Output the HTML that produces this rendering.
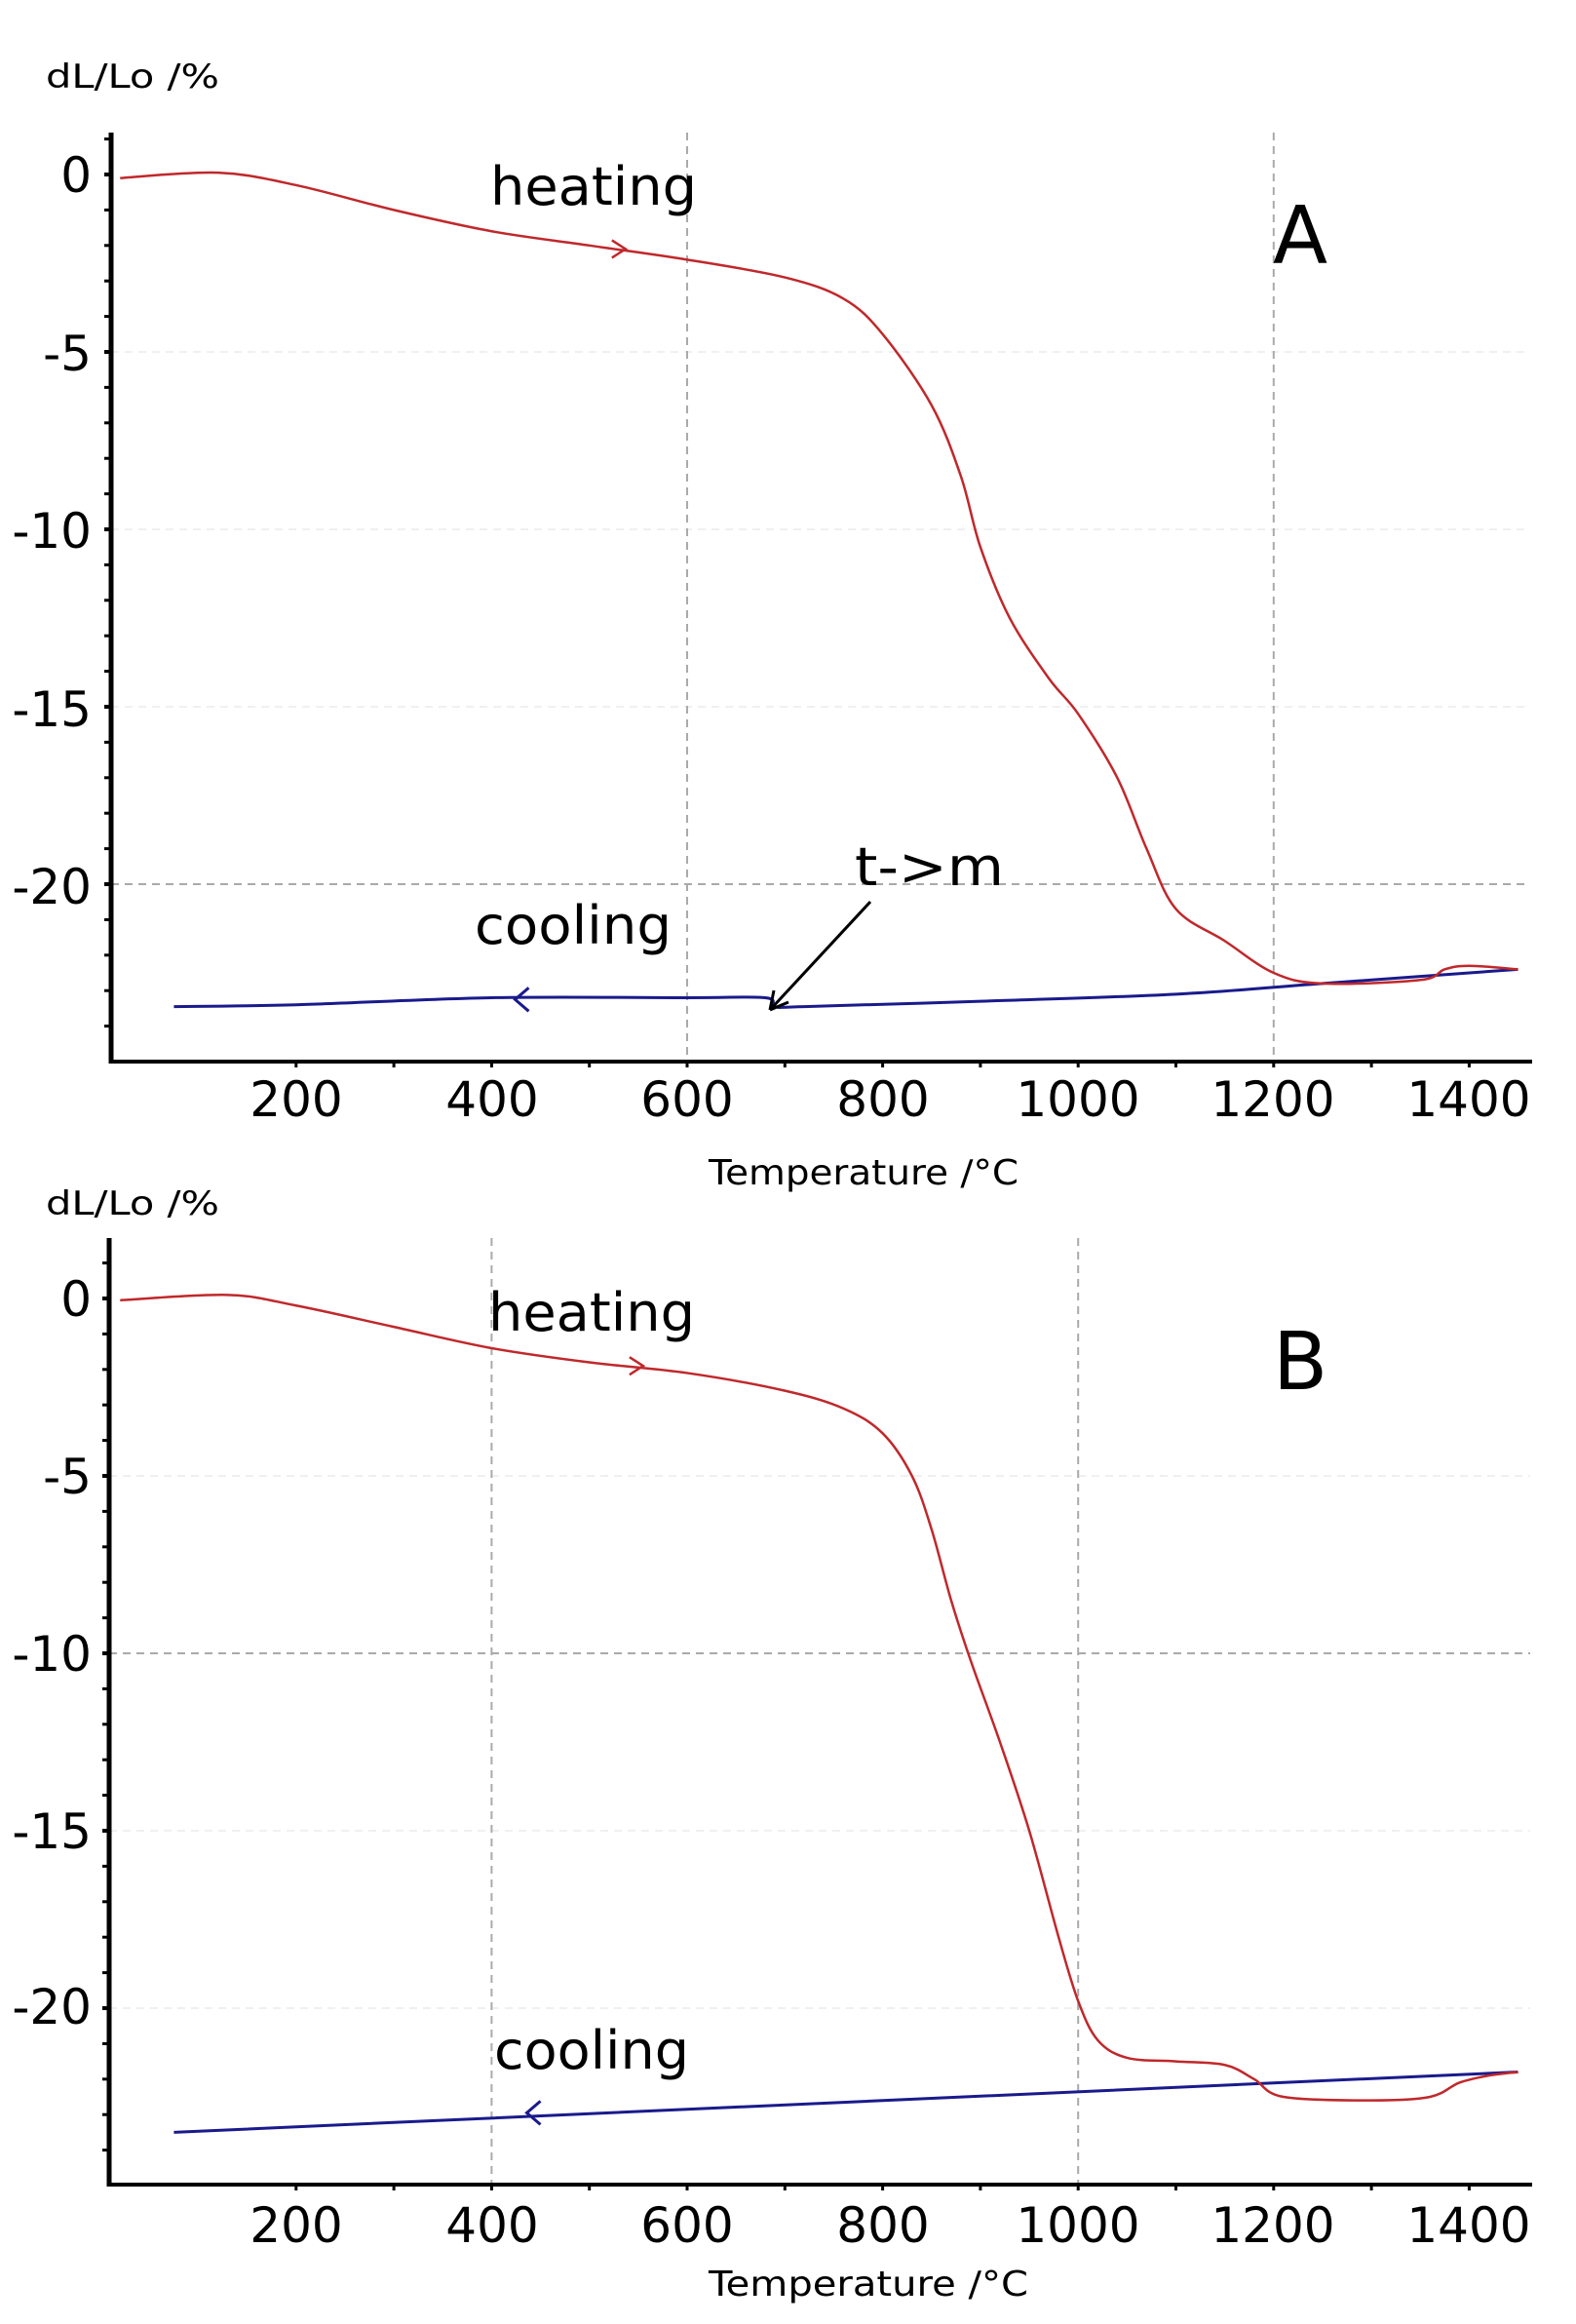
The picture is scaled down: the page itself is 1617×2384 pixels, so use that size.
<!DOCTYPE html>
<html><head><meta charset="utf-8"><style>
html,body{margin:0;padding:0;background:#fff}
svg{display:block}
text{font-family:"DejaVu Sans","Liberation Sans",sans-serif;fill:#000}
</style></head><body>
<svg id="s" width="1617" height="2384" viewBox="0 0 1617 2384" xmlns="http://www.w3.org/2000/svg">
<g id="g"></g>
<!-- Plot A texts -->
<text x="47" y="90" font-size="34" textLength="178" lengthAdjust="spacingAndGlyphs">dL/Lo /%</text>
<g font-size="50" text-anchor="end">
<text x="94" y="197">0</text>
<text x="94" y="380">-5</text>
<text x="94" y="562">-10</text>
<text x="94" y="745">-15</text>
<text x="94" y="927">-20</text>
</g>
<g font-size="50" text-anchor="middle">
<text x="304" y="1145">200</text>
<text x="505" y="1145">400</text>
<text x="705" y="1145">600</text>
<text x="906" y="1145">800</text>
<text x="1106" y="1145">1000</text>
<text x="1306" y="1145">1200</text>
<text x="1507" y="1145">1400</text>
</g>
<text x="727" y="1215" font-size="36" textLength="318" lengthAdjust="spacingAndGlyphs">Temperature /°C</text>
<text x="503" y="210" font-size="54" textLength="212" lengthAdjust="spacingAndGlyphs">heating</text>
<text x="1306" y="270" font-size="82">A</text>
<text x="487" y="968" font-size="54" textLength="202" lengthAdjust="spacingAndGlyphs">cooling</text>
<text x="877" y="908" font-size="54" textLength="153" lengthAdjust="spacingAndGlyphs">t-&gt;m</text>
<line x1="893" y1="925" x2="790" y2="1036" stroke="#000" stroke-width="3"/>
<path d="M790,1036 L794,1016 M790,1036 L809,1028" stroke="#000" stroke-width="3" fill="none"/>
<!-- Plot B texts -->
<text x="47" y="1246" font-size="34" textLength="178" lengthAdjust="spacingAndGlyphs">dL/Lo /%</text>
<g font-size="50" text-anchor="end">
<text x="94" y="1350">0</text>
<text x="94" y="1532">-5</text>
<text x="94" y="1714">-10</text>
<text x="94" y="1896">-15</text>
<text x="94" y="2076">-20</text>
</g>
<g font-size="50" text-anchor="middle">
<text x="304" y="2300">200</text>
<text x="505" y="2300">400</text>
<text x="705" y="2300">600</text>
<text x="906" y="2300">800</text>
<text x="1106" y="2300">1000</text>
<text x="1306" y="2300">1200</text>
<text x="1507" y="2300">1400</text>
</g>
<text x="727" y="2355" font-size="36" textLength="328" lengthAdjust="spacingAndGlyphs">Temperature /°C</text>
<text x="501" y="1365" font-size="54" textLength="212" lengthAdjust="spacingAndGlyphs">heating</text>
<text x="1306" y="1425" font-size="82">B</text>
<text x="507" y="2122" font-size="54" textLength="200" lengthAdjust="spacingAndGlyphs">cooling</text>
</svg>
<script>
var NS="http://www.w3.org/2000/svg",G=document.getElementById("g");
function el(t,a){var e=document.createElementNS(NS,t);for(var k in a)e.setAttribute(k,a[k]);G.appendChild(e);return e;}
function X(T){return 705+(T-600)*1.003;}
function mk(y0){return function(v){return y0-v*36.4;};}
function smooth(pts,Y){var p=pts.map(function(a){return [X(a[0]),Y(a[1])];});var d="M"+p[0][0]+","+p[0][1];
for(var i=0;i<p.length-1;i++){var p0=p[i-1]||p[i],p1=p[i],p2=p[i+1],p3=p[i+2]||p2;
d+=" C"+(p1[0]+(p2[0]-p0[0])/6)+","+(p1[1]+(p2[1]-p0[1])/6)+" "+(p2[0]-(p3[0]-p1[0])/6)+","+(p2[1]-(p3[1]-p1[1])/6)+" "+p2[0]+","+p2[1];}return d;}
function plot(o){
var Y=mk(o.y0),ax=o.ax,top=o.top,bot=o.bot;
[-5,-10,-15,-20].forEach(function(v){if(o.hg.indexOf(v)<0)el("line",{x1:ax,x2:1570,y1:Y(v),y2:Y(v),stroke:"#f0f0f0","stroke-width":2,"stroke-dasharray":"8,6"});});
o.hg.forEach(function(v){el("line",{x1:ax,x2:1570,y1:Y(v),y2:Y(v),stroke:"#aaa","stroke-width":2,"stroke-dasharray":"8,6"});});
o.vg.forEach(function(T){el("line",{x1:X(T),x2:X(T),y1:top,y2:bot,stroke:"#aaa","stroke-width":2,"stroke-dasharray":"8,6"});});
el("line",{x1:ax,x2:ax,y1:top,y2:bot+2,stroke:"#000","stroke-width":5});
el("line",{x1:ax,x2:1572,y1:bot,y2:bot,stroke:"#000","stroke-width":4});
for(var v=1;v>=-24;v--){var y=Y(v);if(y>top&&y<bot)el("line",{x1:ax-7,x2:ax,y1:y,y2:y,stroke:"#000","stroke-width":(v%5==0?4:3)});}
for(var T=200;T<=1400;T+=100)el("line",{x1:X(T),x2:X(T),y1:bot,y2:bot+6,stroke:"#000","stroke-width":3});
el("path",{d:smooth(o.c,Y),fill:"none",stroke:"#1a1a8c","stroke-width":3});
el("path",{d:smooth(o.h,Y),fill:"none",stroke:"#c0282b","stroke-width":2.5});
var hx=X(o.ha[0]),hy=Y(o.ha[1]);el("path",{d:"M"+(hx-14)+","+(hy-9)+" L"+hx+","+hy+" L"+(hx-14)+","+(hy+9),fill:"none",stroke:"#c0282b","stroke-width":2.5});
var cx=X(o.ca[0]),cy=Y(o.ca[1]);el("path",{d:"M"+(cx+14)+","+(cy-12)+" L"+cx+","+cy+" L"+(cx+14)+","+(cy+12),fill:"none",stroke:"#1a1a8c","stroke-width":3});
}
plot({y0:179,ax:114,top:136,bot:1089,hg:[-20],vg:[600,1200],
h:[[20,-0.1],[120,0.05],[200,-0.3],[300,-1.0],[400,-1.6],[500,-2.0],[600,-2.4],[700,-2.9],[760,-3.5],[800,-4.5],[850,-6.5],[880,-8.5],[900,-10.5],[930,-12.5],[970,-14.2],[1000,-15.2],[1040,-17],[1070,-19],[1100,-20.7],[1150,-21.6],[1200,-22.5],[1250,-22.8],[1350,-22.7],[1375,-22.4],[1400,-22.3],[1450,-22.4]],
c:[[1450,-22.4],[1250,-22.8],[1100,-23.1],[900,-23.3],[720,-23.45],[690,-23.45],[680,-23.2],[600,-23.2],[400,-23.2],[200,-23.4],[75,-23.45]],
ha:[537,-2.1],ca:[424,-23.25]});
plot({y0:1332,ax:112,top:1270,bot:2241,hg:[-10],vg:[400,1000],
h:[[20,-0.05],[130,0.1],[200,-0.2],[300,-0.8],[400,-1.4],[500,-1.8],[600,-2.1],[700,-2.6],[760,-3.1],[800,-3.8],[830,-5],[850,-6.5],[870,-8.5],[890,-10.2],[920,-12.5],[950,-15],[980,-18],[1000,-19.8],[1020,-20.9],[1050,-21.4],[1100,-21.5],[1150,-21.6],[1180,-22],[1210,-22.5],[1300,-22.6],[1360,-22.5],[1390,-22.1],[1420,-21.9],[1450,-21.8]],
c:[[1450,-21.8],[75,-23.5]],
ha:[555,-1.9],ca:[436,-22.95]});
</script>
</body></html>
